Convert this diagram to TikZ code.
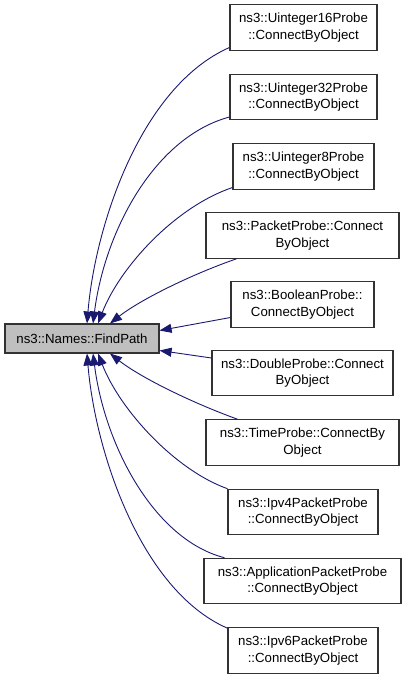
\documentclass[tikz,border=0pt]{standalone}
\usepackage{fontspec}
\setmainfont{Liberation Sans}
\usetikzlibrary{arrows.meta}
\definecolor{edgeblue}{RGB}{25,25,112}
\definecolor{boxborder}{RGB}{50,50,50}
\definecolor{focusfill}{RGB}{191,191,191}
\begin{document}
\begin{tikzpicture}[x=1bp,y=-1bp,
  box/.style={draw=boxborder, line width=1.1bp, fill=white, inner sep=0pt, align=center,
    font=\fontsize{13.3}{16.5}\selectfont, minimum height=45.5bp},
  edge/.style={draw=edgeblue, line width=0.9bp, -{Triangle[length=12bp,width=9bp]}}]
\useasboundingbox (0,0) rectangle (405,680);
\node[box, fill=focusfill, minimum width=154bp, minimum height=29bp] (f) at (82,338.5) {ns3::Names::FindPath};
\node[box, minimum width=147bp] (u16) at (303.5,27.5) {ns3::Uinteger16Probe\\::ConnectByObject};
\node[box, minimum width=147bp] (u32) at (303.5,97) {ns3::Uinteger32Probe\\::ConnectByObject};
\node[box, minimum width=141bp] (u8) at (303.5,166.5) {ns3::Uinteger8Probe\\::ConnectByObject};
\node[box, minimum width=193bp] (pp) at (302.5,235.5) {ns3::PacketProbe::Connect\\ByObject};
\node[box, minimum width=143bp] (bo) at (302.5,304.5) {ns3::BooleanProbe::\\ConnectByObject};
\node[box, minimum width=181bp] (dp) at (302.5,373) {ns3::DoubleProbe::Connect\\ByObject};
\node[box, minimum width=193bp] (tp) at (302.5,442.5) {ns3::TimeProbe::ConnectBy\\Object};
\node[box, minimum width=150bp] (i4) at (303,512) {ns3::Ipv4PacketProbe\\::ConnectByObject};
\node[box, minimum width=197bp] (ap) at (302.5,581) {ns3::ApplicationPacketProbe\\::ConnectByObject};
\node[box, minimum width=150bp] (i6) at (303,650.5) {ns3::Ipv6PacketProbe\\::ConnectByObject};
\draw[edge] ([yshift=-20bp]u16.west) .. controls (140,87) and (95,227) .. ([xshift=5bp]f.north);
\draw[edge] ([yshift=-20bp]u32.west) .. controls (155,137) and (105,230) .. ([xshift=11bp]f.north);
\draw[edge] ([yshift=-21bp]u8.west) .. controls (175,207) and (120,267) .. ([xshift=16bp]f.north);
\draw[edge] ([xshift=31bp]pp.south west) .. controls (190,275) and (140,300) .. ([xshift=28bp]f.north);
\draw[edge] ([yshift=-13bp]bo.west) -- ([yshift=8bp]f.east);
\draw[edge] ([yshift=15bp]dp.west) -- ([yshift=-12bp]f.east);
\draw[edge] ([xshift=32bp]tp.north west) .. controls (190,402) and (140,377) .. ([xshift=28bp]f.south);
\draw[edge] (i4.north west) .. controls (175,470) and (120,410) .. ([xshift=16bp]f.south);
\draw[edge] ([xshift=21bp]ap.north west) .. controls (155,540) and (105,447) .. ([xshift=11bp]f.south);
\draw[edge] ([yshift=-1bp]i6.north west) .. controls (140,590) and (95,450) .. ([xshift=5bp]f.south);
\end{tikzpicture}
\end{document}
